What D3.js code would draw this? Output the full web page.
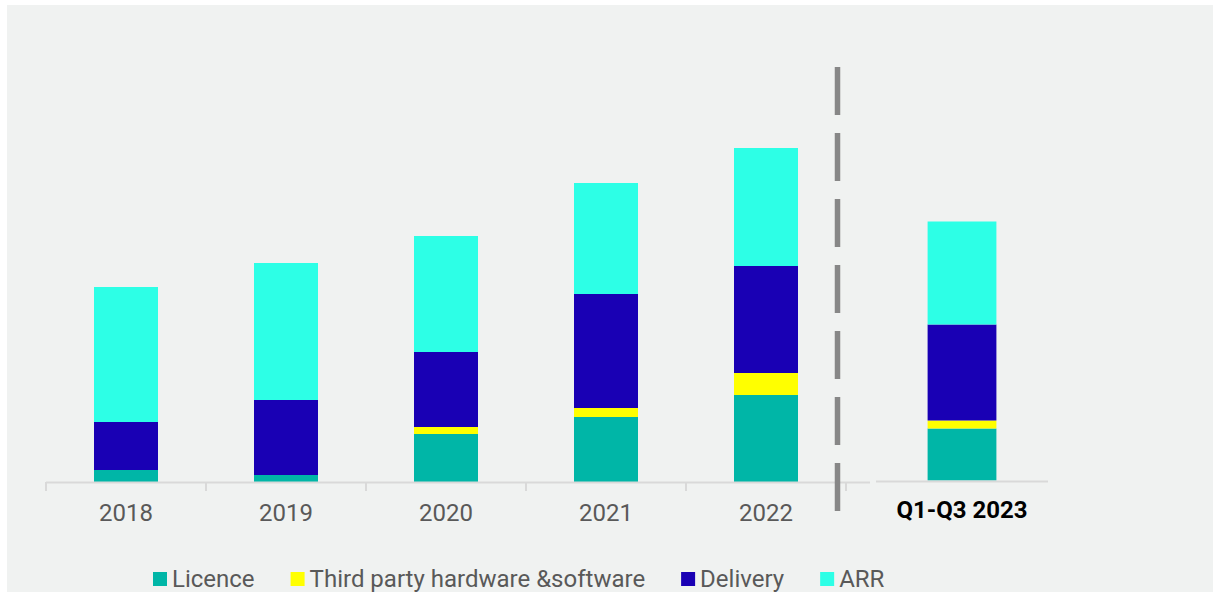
<!DOCTYPE html>
<html>
<head>
<meta charset="utf-8">
<script src="https://cdn.jsdelivr.net/npm/d3@7"></script>
<style>
  html, body { margin: 0; padding: 0; background: #ffffff; }
  svg { display: block; font-family: Roboto, "Noto Sans", sans-serif; }
</style>
</head>
<body>
<svg id="chart" width="1218" height="592"></svg>
<script>
// Revenue by stream, full years and the first three quarters of 2023
const years = ["2018", "2019", "2020", "2021", "2022"];
const ytdLabel = ["Q1-Q3 2023"];
const seriesNames = ["Licence", "Third party hardware &software", "Delivery", "ARR"];
const licence    = [1.2, 0.7, 4.8, 6.5, 8.7];
const thirdParty = [0.0, 0.0, 0.7, 0.9, 2.2];
const delivery   = [4.8, 7.5, 7.5, 11.4, 10.7];
const arr        = [13.5, 13.7, 11.6, 11.1, 11.8];
const ytdValues  = [5.2, 0.8, 9.6, 10.3]; // Licence, Third party, Delivery, ARR
const colors = ["#00b6a7", "#ffff00", "#1900b4", "#2dffe6"];

const svg = d3.select("#chart");

// panel background
svg.append("rect").attr("x", 7).attr("y", 5).attr("width", 1206).attr("height", 600)
  .attr("fill", "#f0f2f1");

const keys = seriesNames;
const rows = years.map((y, i) => ({
  cat: y, [keys[0]]: licence[i], [keys[1]]: thirdParty[i], [keys[2]]: delivery[i], [keys[3]]: arr[i]
}));
const ytdRows = ytdLabel.map(c => {
  const r = { cat: c };
  keys.forEach((k, j) => r[k] = ytdValues[j]);
  return r;
});
const stack = d3.stack().keys(keys);
const color = d3.scaleOrdinal().domain(keys).range(colors);

// ---- yearly chart ----
const x = d3.scaleBand().domain(years).range([46, 846]).paddingInner(0.6).paddingOuter(0.3);
const y = d3.scaleLinear().domain([0, 40]).range([482, 82]);

const g1 = svg.append("g");
g1.selectAll("g.layer").data(stack(rows)).join("g")
  .attr("class", "layer").attr("fill", d => color(d.key))
  .selectAll("rect").data(d => d).join("rect")
  .attr("x", d => x(d.data.cat))
  .attr("width", x.bandwidth())
  .attr("y", d => y(d[1]))
  .attr("height", d => y(d[0]) - y(d[1]));

const ax1 = g1.append("g").attr("transform", "translate(0,482)")
  .call(d3.axisBottom(x).tickSize(0).tickPadding(0));
ax1.select(".domain").remove();
ax1.selectAll("text").attr("y", 39).attr("dy", 0)
  .attr("font-size", 24).attr("fill", "#595959").attr("font-family", "Roboto");
// baseline and category separators
g1.append("line").attr("x1", 46).attr("x2", 870).attr("y1", 482.5).attr("y2", 482.5)
  .attr("stroke", "#d9d9d9").attr("stroke-width", 2);
const half = (x.step() - x.bandwidth()) / 2;
const sepX = years.map(c => x(c) - half).concat([x(years[years.length - 1]) + x.bandwidth() + half]);
g1.selectAll("line.sep").data(sepX).join("line").attr("class", "sep")
  .attr("x1", d => d).attr("x2", d => d).attr("y1", 482).attr("y2", 491)
  .attr("stroke", "#d9d9d9").attr("stroke-width", 2);

// ---- year-to-date chart ----
const x2 = d3.scaleBand().domain(ytdLabel).range([876, 1048]).paddingInner(0.6).paddingOuter(0.3);
const y2 = d3.scaleLinear().domain([0, 40]).range([480.5, 80.5]);
const g2 = svg.append("g");
g2.selectAll("g.layer").data(stack(ytdRows)).join("g")
  .attr("class", "layer").attr("fill", d => color(d.key))
  .selectAll("rect").data(d => d).join("rect")
  .attr("x", d => x2(d.data.cat))
  .attr("width", x2.bandwidth())
  .attr("y", d => y2(d[1]))
  .attr("height", d => y2(d[0]) - y2(d[1]));
g2.append("line").attr("x1", 876).attr("x2", 1048).attr("y1", 481.5).attr("y2", 481.5)
  .attr("stroke", "#d9d9d9").attr("stroke-width", 2);
const ax2 = g2.append("g").attr("transform", "translate(0,481)").call(d3.axisBottom(x2).tickSize(0));
ax2.select(".domain").remove();
ax2.selectAll("text").attr("y", 37).attr("dy", 0)
  .attr("font-size", 24).attr("font-weight", "bold").attr("fill", "#000000").attr("font-family", "Roboto");

// dashed divider
svg.append("line").attr("x1", 837.5).attr("x2", 837.5).attr("y1", 67).attr("y2", 512)
  .attr("stroke", "#878787").attr("stroke-width", 5.5).attr("stroke-dasharray", "48 18");

// ---- legend ----
const legend = svg.append("g").attr("transform", "translate(153,0)");
let lx = 0;
keys.forEach((k, i) => {
  const item = legend.append("g").attr("transform", `translate(${lx},0)`);
  item.append("rect").attr("x", 0).attr("y", 572).attr("width", 14).attr("height", 14).attr("fill", colors[i]);
  const t = item.append("text").attr("x", 19).attr("y", 587)
    .attr("font-size", 24).attr("fill", "#595959").attr("font-family", "Roboto").text(k);
  lx += 19 + t.node().getComputedTextLength() + 36;
});
</script>
</body>
</html>
